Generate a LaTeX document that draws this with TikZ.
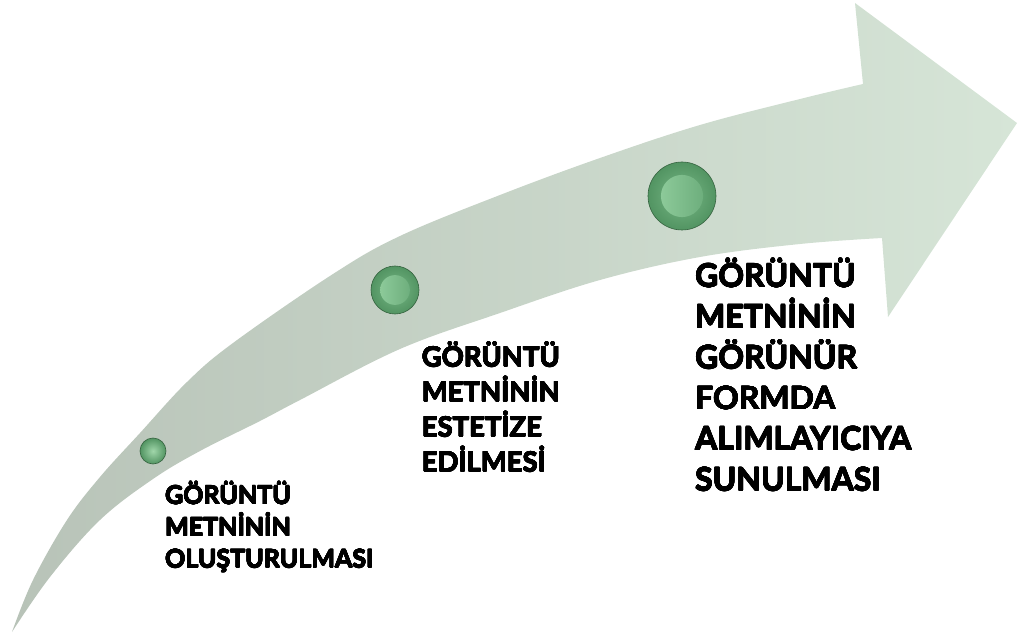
\documentclass[tikz,border=0pt]{standalone}
\usepackage{fontspec}
\usepackage{contour}
\contourlength{0.35pt}
\contournumber{16}
\setmainfont{Carlito}
\newfontfamily\labfont{Lato}[Scale=0.9]
\newcommand\heavyline[1]{\contour{black}{#1}}
\definecolor{arrL}{RGB}{184,195,184}
\definecolor{arrR}{RGB}{214,229,215}
\definecolor{ballEdge}{RGB}{52,98,62}
\definecolor{ballIn}{RGB}{160,214,170}
\definecolor{ballOut}{RGB}{82,148,98}
\definecolor{diskL}{RGB}{150,210,162}
\definecolor{diskR}{RGB}{100,166,116}
\begin{document}
\begin{tikzpicture}[x=1pt,y=-1pt,
  arrowbody/.style={left color=arrL, right color=arrR},
  smalldot/.style={circle, inner sep=0pt, minimum size=#1, draw=ballEdge, line width=0.6pt,
     inner color=ballIn, outer color=ballOut},
  bigdot/.style={circle, inner sep=0pt, minimum size=2*#1, draw=ballEdge, line width=0.6pt,
     inner color={rgb,255:red,120;green,184;blue,134}, outer color=ballOut,
     path picture={\shade[left color=diskL, right color=diskR]
        (path picture bounding box.center) circle [radius=0.62*#1];}},
  lab/.style={align=left, inner sep=0pt, anchor=base west, text=black}]
\useasboundingbox (0,0) rectangle (1018,639);
% curved arrow
\path[arrowbody]
  plot[smooth, tension=0.6] coordinates {(12,632) (33,580) (67,520) (100,477) (140,433) (187,382) (233,343) (333,274) (400,236) (500,195) (600,158) (700,125) (800,99) (863,84)}
  -- (855,3) -- (1017,123) -- (888,317) -- (882,238)
  -- plot[smooth, tension=0.6] coordinates {(882,238) (800,244) (700,257) (600,280) (500,313) (400,349) (300,400) (260,421) (200,451) (153,479) (100,520) (50,577) (12,632)}
  -- cycle;
% dots
\node[smalldot=26pt] (d1) at (153,451) {};
\node[bigdot=24pt] (d2) at (395,290) {};
\node[bigdot=34pt] (d3) at (682,196) {};
% labels
\node[lab, font=\labfont\bfseries\fontsize{27.8}{31.7}\selectfont] (t1) at (165,567.7)
  {\heavyline{GÖRÜNTÜ}\\\heavyline{METNİNİN}\\\heavyline{OLUŞTURULMASI}};
\node[lab, font=\labfont\bfseries\fontsize{30.5}{35}\selectfont] (t2) at (421.7,471.7)
  {\heavyline{GÖRÜNTÜ}\\\heavyline{METNİNİN}\\\heavyline{ESTETİZE}\\\heavyline{EDİLMESİ}};
\node[lab, font=\labfont\bfseries\fontsize{35.5}{40.7}\selectfont] (t3) at (695,490.8)
  {\heavyline{GÖRÜNTÜ}\\\heavyline{METNİNİN}\\\heavyline{GÖRÜNÜR}\\\heavyline{FORMDA}\\\heavyline{ALIMLAYICIYA}\\\heavyline{SUNULMASI}};
\end{tikzpicture}
\end{document}
